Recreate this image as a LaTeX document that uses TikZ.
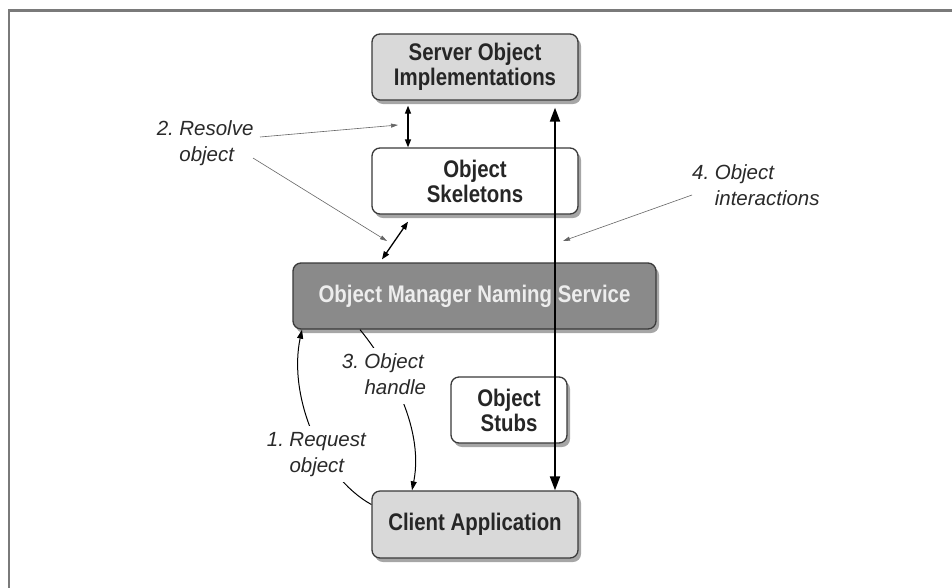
\documentclass[tikz,border=0pt]{standalone}
\usepackage{fontspec}
\setmainfont{Liberation Sans}
\newfontfamily\boxfont{Liberation Sans}[FakeStretch=0.85]
\newfontfamily\lblfont{Liberation Sans}
\usetikzlibrary{arrows.meta,shadows,calc}
\definecolor{framegray}{HTML}{7A7A7A}
\definecolor{lightfill}{HTML}{D9D9D9}
\definecolor{darkfill}{HTML}{8A8A8A}
\definecolor{edgegray}{HTML}{3A3A3A}
\definecolor{lblgray}{HTML}{2A2A2A}
\definecolor{ptrgray}{HTML}{666666}
\newcommand{\numgap}{\kern5.5pt}
\begin{document}
\begin{tikzpicture}[x=1pt,y=-1pt,
  box/.style={draw=edgegray, line width=1.3pt, rounded corners=8pt, align=center,
    inner sep=0pt, font=\boxfont\bfseries\fontsize{24}{25}\selectfont, text=black!85,
    drop shadow={shadow xshift=3pt, shadow yshift=-4pt, opacity=0.35, fill=black}},
  lab/.style={inner sep=2pt, anchor=west, text=lblgray,
    font=\lblfont\itshape\fontsize{20.5}{26}\selectfont},
  bigarrow/.style={line width=2pt, {Triangle[length=14pt,width=10pt]}-{Triangle[length=14pt,width=10pt]}},
  midarrow/.style={line width=1.3pt, {Triangle[length=8pt,width=6pt]}-{Triangle[length=8pt,width=6pt]}},
  curvearrow/.style={line width=1pt, -{Triangle[length=9pt,width=6pt]}},
  pointer/.style={draw=ptrgray, line width=0.6pt, -{Triangle[length=7pt,width=4pt]}}
]
\useasboundingbox (0,0) rectangle (952,587);
\clip (0,0) rectangle (952,587);
\fill[white] (0,0) rectangle (952,587);
\draw[framegray, line width=2.5pt] (8.75,600) -- (8.75,10.5) -- (960,10.5);

% boxes
\node[box, fill=lightfill, minimum width=206pt, minimum height=66pt] (server) at (475,67) {Server Object\\Implementations};
\node[box, fill=white, minimum width=206pt, minimum height=66pt] (skel) at (475,181) {Object\\Skeletons};
\node[box, fill=darkfill, text=white!93!black, minimum width=363pt, minimum height=66pt] (naming) at (474.5,296) {Object Manager Naming Service};
\node[box, fill=white, minimum width=116pt, minimum height=66pt] (stubs) at (509,410) {Object\\Stubs};
\node[box, fill=lightfill, minimum width=206pt, minimum height=67pt] (client) at (475,524.5) {Client Application};

% helper coordinates
\coordinate (lx) at (555,0);
\coordinate (sx) at (408,0);
\coordinate (nx) at (382,0);
\coordinate (rx) at (302,0);
\coordinate (hx) at (360,0);
\coordinate (hy) at (412,0);

% connectors
\draw[bigarrow] ([yshift=-7pt]server.south -| lx) -- (client.north -| lx);
\draw[midarrow] ([yshift=-5pt]server.south -| sx) -- (skel.north -| sx);
\draw[midarrow] ([yshift=-7pt]skel.south -| sx) -- ([yshift=3pt]naming.north -| nx);
\draw[curvearrow] ([yshift=20pt]client.west) .. controls (320,476) and (288,395) .. (naming.south -| rx);
\draw[curvearrow] (naming.south -| hx) .. controls (385,360) and (425,425) .. (client.north -| hy);

% labels
\node[lab] (l2) at (154.6,143.3) {\begin{tabular}{@{}r@{}l@{}}2.\numgap&Resolve\\&object\end{tabular}};
\node[lab, fill=white] (l1) at (264.7,454) {\begin{tabular}{@{}r@{}l@{}}1.\numgap&Request\\&object\end{tabular}};
\node[lab, fill=white] (l3) at (339.7,376) {\begin{tabular}{@{}r@{}l@{}}3.\numgap&Object\\&handle\end{tabular}};
\node[lab] (l4) at (690,187) {\begin{tabular}{@{}r@{}l@{}}4.\numgap&Object\\&interactions\end{tabular}};

% pointers
\coordinate (p2s) at (260,137); \coordinate (p2t) at (398,125);
\coordinate (p2u) at (253,158); \coordinate (p2v) at (387,241);
\coordinate (p4s) at (692,195); \coordinate (p4t) at (563,241);
\draw[pointer] (p2s) -- (p2t);
\draw[pointer] (p2u) -- (p2v);
\draw[pointer] (p4s) -- (p4t);
\end{tikzpicture}
\end{document}
